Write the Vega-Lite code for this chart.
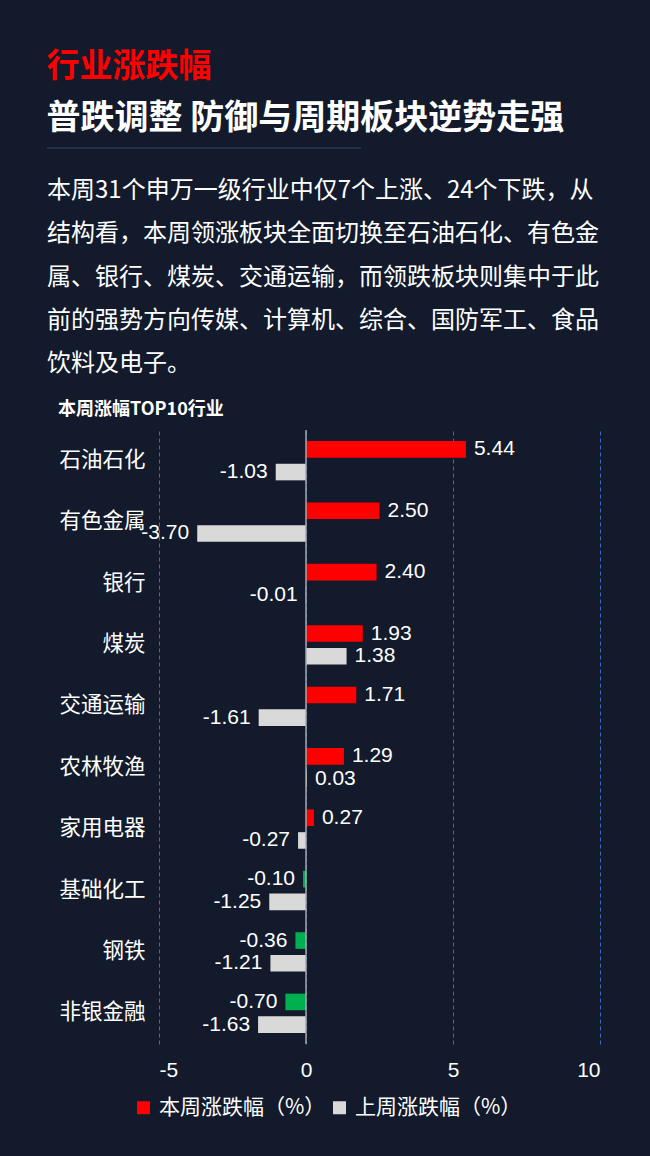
{
  "$schema": "https://vega.github.io/schema/vega-lite/v6.json",
  "background": "#121a2b",
  "padding": {"left": 46, "top": 50, "right": 55, "bottom": 45},
  "config": {"view": {"stroke": null}, "font": "Noto Sans CJK SC"},
  "title": {
    "text": "行业涨跌幅",
    "subtitle": "普跌调整 防御与周期板块逆势走强",
    "anchor": "start",
    "frame": "bounds",
    "font": "Noto Sans CJK SC",
    "fontSize": 33,
    "fontWeight": "bold",
    "color": "#ff0000",
    "subtitleFont": "Noto Sans CJK SC",
    "subtitleFontSize": 34,
    "subtitleFontWeight": "bold",
    "subtitleColor": "#ffffff",
    "subtitlePadding": 18,
    "offset": 12
  },
  "spacing": 25,
  "resolve": {"scale": {"color": "independent", "x": "independent", "y": "independent"}, "legend": {"color": "independent"}},
  "vconcat": [
    {
      "width": 441,
      "height": 216,
      "data": {"values": [
        {"line": 1, "text": "本周31个申万一级行业中仅7个上涨、24个下跌，从"},
        {"line": 2, "text": "结构看，本周领涨板块全面切换至石油石化、有色金"},
        {"line": 3, "text": "属、银行、煤炭、交通运输，而领跌板块则集中于此"},
        {"line": 4, "text": "前的强势方向传媒、计算机、综合、国防军工、食品"},
        {"line": 5, "text": "饮料及电子。"}
      ]},
      "layer": [
        {
          "data": {"values": [{"start": 0, "end": 0.712, "pos": 0}]},
          "mark": {"type": "rule", "color": "#34466b", "strokeWidth": 1},
          "encoding": {
            "x": {"field": "start", "type": "quantitative", "scale": {"domain": [0.254, 1.254], "nice": false, "zero": false}, "axis": null},
            "x2": {"field": "end"},
            "y": {"field": "pos", "type": "quantitative", "scale": {"domain": [0, 5], "reverse": true}, "axis": null}
          }
        },
        {
          "mark": {"type": "text", "align": "left", "baseline": "middle", "fontSize": 24, "color": "#ffffff", "font": "Noto Sans CJK SC"},
          "encoding": {
            "x": {"datum": 0, "type": "quantitative"},
            "y": {"field": "line", "type": "quantitative"},
            "text": {"field": "text"}
          }
        }
      ]
    },
    {
      "title": {"text": "本周涨幅TOP10行业", "anchor": "start", "frame": "bounds", "fontSize": 18, "fontWeight": "bold", "color": "#ffffff", "font": "Noto Sans CJK SC", "offset": 10, "dx": 11},
      "width": 441,
      "height": 614,
      "data": {"values": [
        {"industry": "石油石化", "week": "本周涨跌幅（%）", "value": 5.44},
        {"industry": "石油石化", "week": "上周涨跌幅（%）", "value": -1.03},
        {"industry": "有色金属", "week": "本周涨跌幅（%）", "value": 2.50},
        {"industry": "有色金属", "week": "上周涨跌幅（%）", "value": -3.70},
        {"industry": "银行", "week": "本周涨跌幅（%）", "value": 2.40},
        {"industry": "银行", "week": "上周涨跌幅（%）", "value": -0.01},
        {"industry": "煤炭", "week": "本周涨跌幅（%）", "value": 1.93},
        {"industry": "煤炭", "week": "上周涨跌幅（%）", "value": 1.38},
        {"industry": "交通运输", "week": "本周涨跌幅（%）", "value": 1.71},
        {"industry": "交通运输", "week": "上周涨跌幅（%）", "value": -1.61},
        {"industry": "农林牧渔", "week": "本周涨跌幅（%）", "value": 1.29},
        {"industry": "农林牧渔", "week": "上周涨跌幅（%）", "value": 0.03},
        {"industry": "家用电器", "week": "本周涨跌幅（%）", "value": 0.27},
        {"industry": "家用电器", "week": "上周涨跌幅（%）", "value": -0.27},
        {"industry": "基础化工", "week": "本周涨跌幅（%）", "value": -0.10},
        {"industry": "基础化工", "week": "上周涨跌幅（%）", "value": -1.25},
        {"industry": "钢铁", "week": "本周涨跌幅（%）", "value": -0.36},
        {"industry": "钢铁", "week": "上周涨跌幅（%）", "value": -1.21},
        {"industry": "非银金融", "week": "本周涨跌幅（%）", "value": -0.70},
        {"industry": "非银金融", "week": "上周涨跌幅（%）", "value": -1.63}
      ]},
      "transform": [{"calculate": "replace(format(datum.value, '.2f'), '\u2212', '-')", "as": "label"}],
      "layer": [
        {
          "mark": {"type": "bar"},
          "encoding": {
            "y": {"field": "industry", "type": "nominal",
              "sort": ["石油石化", "有色金属", "银行", "煤炭", "交通运输", "农林牧渔", "家用电器", "基础化工", "钢铁", "非银金融"],
              "scale": {"paddingInner": 0.36, "paddingOuter": 0.18},
              "axis": {"title": null, "domain": false, "ticks": false, "labelColor": "#ffffff", "labelFontSize": 21.5, "labelFont": "Noto Sans CJK SC", "labelPadding": 14, "minExtent": 112}},
            "yOffset": {"field": "week", "type": "nominal", "sort": ["本周涨跌幅（%）", "上周涨跌幅（%）"], "scale": {"paddingInner": 0.27}},
            "x": {"field": "value", "type": "quantitative",
              "scale": {"domain": [-5, 10], "nice": false, "zero": false},
              "axis": {"values": [-5, 0, 5, 10], "labelExpr": "replace(datum.label, '\u2212', '-')", "grid": true, "gridColor": "#3a6bc0", "gridDash": [4, 3], "gridWidth": 1, "domain": false, "ticks": false, "labelColor": "#ffffff", "labelFontSize": 21, "labelFont": "Liberation Sans", "labelPadding": 15, "title": null}},
            "color": {
              "condition": {"test": "datum.week === '本周涨跌幅（%）' && datum.value < 0", "value": "#00b050"},
              "field": "week", "type": "nominal",
              "scale": {"domain": ["本周涨跌幅（%）", "上周涨跌幅（%）"], "range": ["#ff0000", "#d9d9d9"]},
              "legend": {"orient": "none", "legendX": -26, "legendY": 667, "direction": "horizontal", "title": null, "symbolType": "square", "symbolSize": 169, "symbolStrokeWidth": 0, "symbolOpacity": 1, "labelColor": "#ffffff", "labelFontSize": 21, "labelFont": "Noto Sans CJK SC", "columnPadding": 3, "labelOffset": 5, "labelLimit": 300}
            }
          }
        },
        {
          "data": {"values": [{"zero": 0}]},
          "mark": {"type": "rule", "color": "#a6a6a6", "strokeWidth": 1.5},
          "encoding": {"x": {"field": "zero", "type": "quantitative"}}
        },
        {
          "transform": [{"filter": "datum.value >= 0"}],
          "mark": {"type": "text", "align": "left", "baseline": "middle", "dx": 8, "fontSize": 21, "font": "Liberation Sans", "color": "#ffffff"},
          "encoding": {
            "y": {"field": "industry", "type": "nominal", "sort": ["石油石化", "有色金属", "银行", "煤炭", "交通运输", "农林牧渔", "家用电器", "基础化工", "钢铁", "非银金融"]},
            "yOffset": {"field": "week", "type": "nominal", "sort": ["本周涨跌幅（%）", "上周涨跌幅（%）"]},
            "x": {"field": "value", "type": "quantitative"},
            "text": {"field": "label", "type": "nominal"}
          }
        },
        {
          "transform": [{"filter": "datum.value < 0"}],
          "mark": {"type": "text", "align": "right", "baseline": "middle", "dx": -8, "fontSize": 21, "font": "Liberation Sans", "color": "#ffffff"},
          "encoding": {
            "y": {"field": "industry", "type": "nominal", "sort": ["石油石化", "有色金属", "银行", "煤炭", "交通运输", "农林牧渔", "家用电器", "基础化工", "钢铁", "非银金融"]},
            "yOffset": {"field": "week", "type": "nominal", "sort": ["本周涨跌幅（%）", "上周涨跌幅（%）"]},
            "x": {"field": "value", "type": "quantitative"},
            "text": {"field": "label", "type": "nominal"}
          }
        }
      ]
    }
  ]
}
